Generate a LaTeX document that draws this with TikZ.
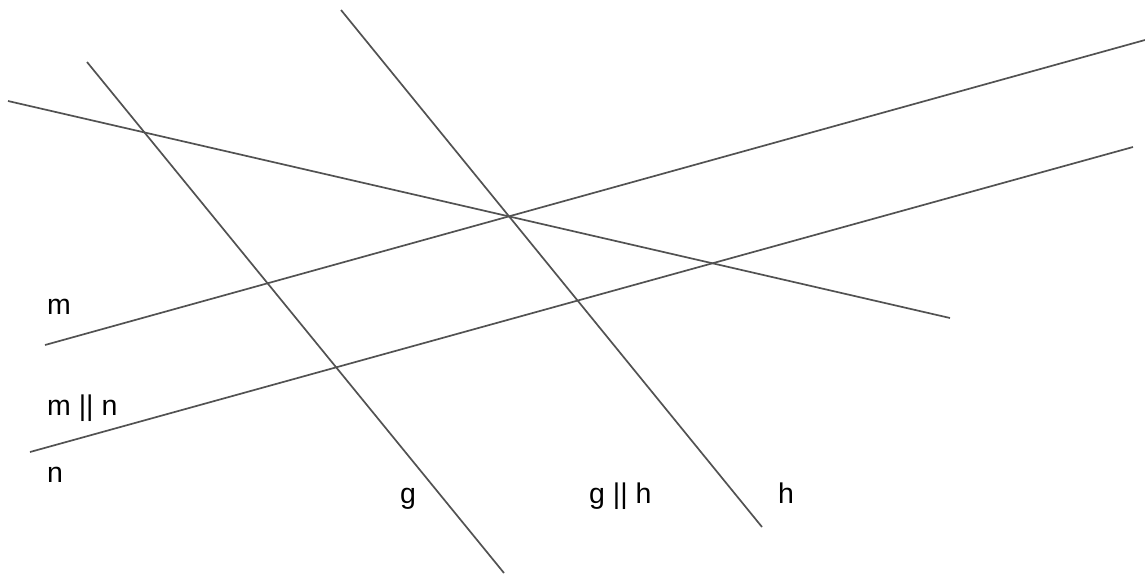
\documentclass[tikz,border=0pt]{standalone}
\usepackage{fontspec}
\setmainfont{Liberation Sans}
\begin{document}
\begin{tikzpicture}[x=1pt,y=-1pt,
  ln/.style={draw=black!68,line width=1.7pt},
  lbl/.style={anchor=base west,inner sep=0pt,font=\fontsize{28.5}{32}\selectfont}]
\useasboundingbox (0,0) rectangle (1145,573);
\coordinate (g1) at (87,62);   \coordinate (g2) at (504,573);
\coordinate (h1) at (341,10);  \coordinate (h2) at (762,527);
\coordinate (m1) at (45,345);  \coordinate (m2) at (1145,40);
\coordinate (n1) at (30,452);  \coordinate (n2) at (1133,147);
\coordinate (t1) at (8,101);   \coordinate (t2) at (950,318);
\draw[ln] (g1) -- (g2);
\draw[ln] (h1) -- (h2);
\draw[ln] (m1) -- (m2);
\draw[ln] (n1) -- (n2);
\draw[ln] (t1) -- (t2);
\node[lbl] (lm) at (47,314) {m};
\node[lbl] (lmn) at (47,415) {m || n};
\node[lbl] (ln) at (47,482) {n};
\node[lbl] (lg) at (400,503) {g};
\node[lbl] (lgh) at (589,503) {g || h};
\node[lbl] (lh) at (778,503) {h};
\end{tikzpicture}
\end{document}
